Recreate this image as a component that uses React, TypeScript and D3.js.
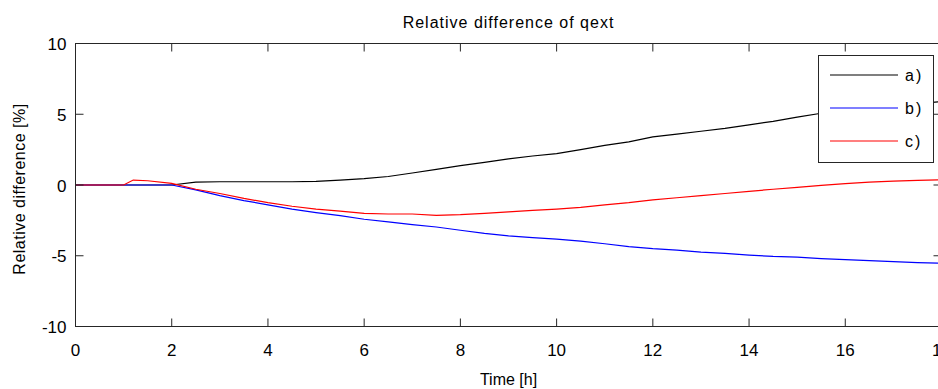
import React from "react";
import * as d3 from "d3";

const timeH = [0, 1, 1.2, 1.5, 2, 2.5, 3, 3.5, 4, 4.5, 5, 5.5, 6, 6.5, 7, 7.5, 8, 8.5, 9, 9.5, 10, 10.5, 11, 11.5, 12, 12.5, 13, 13.5, 14, 14.5, 15, 15.5, 16, 16.5, 17, 17.5, 18];
const seriesA = [0, 0, 0, 0, 0, 0.2, 0.23, 0.23, 0.23, 0.23, 0.25, 0.35, 0.45, 0.6, 0.85, 1.1, 1.37, 1.6, 1.85, 2.05, 2.22, 2.5, 2.8, 3.05, 3.4, 3.6, 3.8, 4.0, 4.25, 4.5, 4.8, 5.07, 5.25, 5.45, 5.6, 5.75, 5.9];
const seriesB = [0, 0, 0, 0, 0, -0.35, -0.75, -1.1, -1.4, -1.7, -1.95, -2.17, -2.42, -2.6, -2.8, -2.97, -3.2, -3.42, -3.6, -3.72, -3.82, -3.97, -4.15, -4.35, -4.5, -4.6, -4.75, -4.83, -4.95, -5.05, -5.1, -5.2, -5.28, -5.35, -5.42, -5.48, -5.53];
const seriesC = [0, 0, 0.35, 0.3, 0.12, -0.3, -0.6, -0.95, -1.25, -1.5, -1.7, -1.85, -2.0, -2.05, -2.05, -2.15, -2.1, -2.0, -1.9, -1.8, -1.7, -1.58, -1.4, -1.25, -1.05, -0.9, -0.75, -0.6, -0.45, -0.3, -0.17, -0.03, 0.1, 0.2, 0.27, 0.33, 0.37];

const seriesNames = ["a)", "b)", "c)"];
const seriesColors = ["#000000", "#0000ff", "#ff0000"];
const xTicks = [0, 2, 4, 6, 8, 10, 12, 14, 16, 18];
const yTicks = [-10, -5, 0, 5, 10];

const W = 938;
const H = 389;
const left = 75.5;
const right = 941.5;
const top = 43.5;
const bottom = 326.5;
const font = "'Liberation Sans', Arial, sans-serif";
const axisColor = "#262626";

export default function App() {
  const x = d3.scaleLinear().domain([0, 18]).range([left, right]);
  const y = d3.scaleLinear().domain([-10, 10]).range([bottom, top]);
  const line = d3
    .line<number>()
    .x((_, i) => x(timeH[i]))
    .y((d) => y(d))
    .curve(d3.curveLinear);
  const all = [seriesA, seriesB, seriesC];
  const tickLen = 8;
  const legX = 818.5;
  const legY = 55.5;
  const legW = 115;
  const legH = 107;

  return (
    <svg
      width={W}
      height={H}
      style={{ position: "absolute", left: 0, top: 0, background: "#fff" }}
      fontFamily={font}
    >
      <defs>
        <clipPath id="plotclip">
          <rect x={left} y={top} width={right - left} height={bottom - top} />
        </clipPath>
      </defs>
      <rect x={0} y={0} width={W} height={H} fill="#fff" />
      <text x={(left + right) / 2} y={28} textAnchor="middle" fontSize={16} letterSpacing={1} fill="#000">
        Relative difference of qext
      </text>
      <g clipPath="url(#plotclip)">
        {all.map((s, i) => (
          <path key={i} d={line(s) || ""} fill="none" stroke={seriesColors[i]} strokeWidth={1.2} />
        ))}
      </g>
      <rect x={left} y={top} width={right - left} height={bottom - top} fill="none" stroke={axisColor} strokeWidth={1} />
      {xTicks.map((t) => (
        <g key={"x" + t}>
          <line x1={x(t)} x2={x(t)} y1={bottom} y2={bottom - tickLen} stroke={axisColor} />
          <line x1={x(t)} x2={x(t)} y1={top} y2={top + tickLen} stroke={axisColor} />
          <text x={x(t)} y={356} textAnchor="middle" fontSize={17} fill="#000">
            {t}
          </text>
        </g>
      ))}
      {yTicks.map((t) => (
        <g key={"y" + t}>
          <line x1={left} x2={left + tickLen} y1={y(t)} y2={y(t)} stroke={axisColor} />
          <line x1={right} x2={right - tickLen} y1={y(t)} y2={y(t)} stroke={axisColor} />
          <text x={left - 9} y={y(t) + 6.5} textAnchor="end" fontSize={17} fill="#000">
            {t}
          </text>
        </g>
      ))}
      <text x={(left + right) / 2} y={385} textAnchor="middle" fontSize={16} fill="#000">
        Time [h]
      </text>
      <text
        transform={`translate(25,189) rotate(-90)`}
        textAnchor="middle"
        fontSize={16}
        letterSpacing={0.5}
        fill="#000"
      >
        Relative difference [%]
      </text>
      <g>
        <rect x={legX} y={legY} width={legW} height={legH} fill="#fff" stroke={axisColor} strokeWidth={1} />
        {seriesNames.map((n, i) => {
          const ly = 75 + i * 33;
          return (
            <g key={n}>
              <line x1={830} x2={898} y1={ly} y2={ly} stroke={seriesColors[i]} strokeWidth={1.2} />
              <text x={905} y={ly + 6} fontSize={16} fill="#000" letterSpacing={2}>
                {n}
              </text>
            </g>
          );
        })}
      </g>
    </svg>
  );
}
